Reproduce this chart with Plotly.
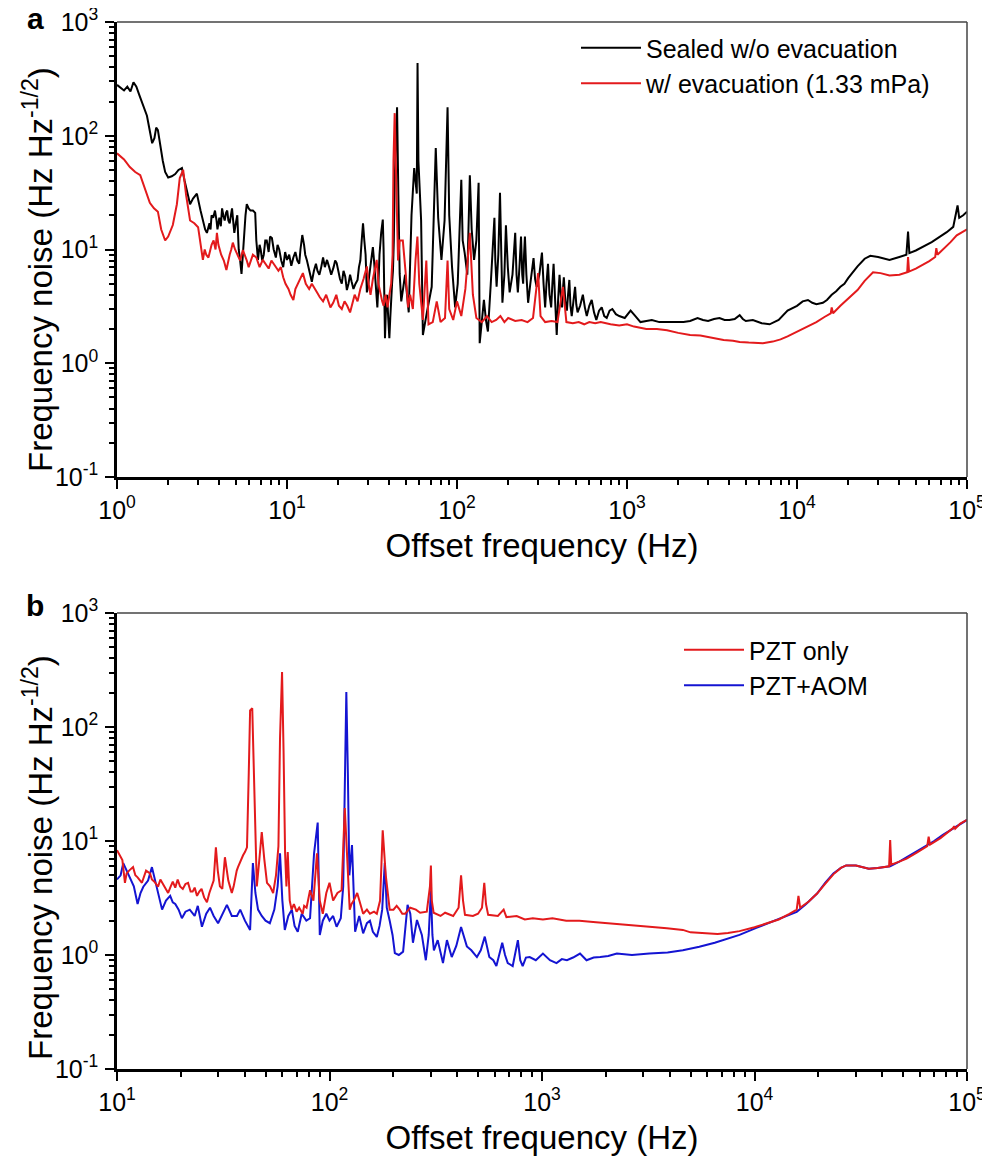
import math
import plotly.graph_objects as go

# ---------------- Panel a data ----------------
a_black_f = [1.0, 1.05, 1.1, 1.15, 1.2, 1.25, 1.3, 1.35, 1.42, 1.5, 1.56, 1.61, 1.66, 1.70, 1.74, 1.80, 1.86, 1.92,
             2.0, 2.1, 2.2, 2.3, 2.41, 2.5, 2.6, 2.69, 2.8, 2.95,
             3.1, 3.2, 3.3, 3.38, 3.45, 3.5, 3.55, 3.6, 3.68, 3.77, 3.85, 3.9, 3.95, 4.0, 4.08, 4.15, 4.22, 4.3,
             4.38, 4.45, 4.52, 4.6, 4.68, 4.75, 4.82, 4.9, 5.0, 5.1, 5.15, 5.2, 5.3, 5.4, 5.5, 5.6, 5.7, 5.8,
             5.95, 6.1, 6.3, 6.5, 6.6, 6.75, 6.9, 7.0, 7.15, 7.3, 7.45, 7.6, 7.8, 7.95, 8.15, 8.35, 8.6, 8.8,
             9.0, 9.25, 9.5, 9.75, 10, 10.3, 10.6, 10.9, 11.2, 11.5, 11.8, 12.0, 12.3, 12.6, 12.8, 13.1, 13.4,
             13.7, 14, 14.4, 14.8, 15.1, 15.5, 15.9, 16.3, 16.7, 17.2, 17.7, 18.2, 18.8, 19.2, 19.6, 20.0, 20.5,
             21.0, 21.5, 22.0, 22.5, 23.0, 23.5, 24.0, 24.6, 25.3, 26, 26.5, 27, 27.5, 28, 28.5, 29, 29.5, 30,
             30.5, 31.2, 32, 32.5, 33, 33.5, 34, 34.5, 35, 35.8, 36.6, 37, 37.2, 37.5, 37.7, 38.2, 38.8, 39.4,
             40, 40.5, 41, 41.5, 42, 42.5,
             43, 44.4, 45.2, 46, 47, 49.5, 52, 54, 56, 58, 58.6, 59.3, 61.5, 63, 66.5, 71, 75, 77.5, 81, 84.5,
             88, 90, 93.5, 97.5, 101, 106, 108, 111, 115, 119, 122, 126, 130, 134, 136, 140, 144, 148, 152, 158,
             166, 168, 171, 175, 179, 182, 185, 190, 194, 199, 204, 212, 220, 224, 228, 233, 238, 242, 245, 248,
             251, 256, 262, 270, 282, 288, 294, 305, 316, 323, 330, 336, 343, 350, 358, 364, 370, 378, 386, 393,
             401, 408, 415, 420, 425, 434, 443, 450, 458, 465, 473, 484, 495, 503, 512, 530, 550, 565, 580, 600,
             620, 640, 660, 685, 710, 735, 760, 790, 820, 860, 900, 970, 1050, 1120, 1200, 1300, 1400, 1550,
             1700, 1900, 2150, 2350, 2600, 2800, 3000, 3250, 3500, 3750, 4000, 4300, 4600, 4800,
             5000, 5500, 6200, 6900, 7800, 8800, 10000, 10800, 11600, 12300, 13000, 14200, 15000, 16000, 17000,
             18000, 19000, 20000, 21300, 22700, 25000, 27000, 30000, 35000, 40000, 44000, 45000, 45800, 50000,
             55000, 62000, 69000, 76000, 83000, 88000, 90000, 95000, 100000]
a_black_v = [280, 265, 250, 270, 245, 295, 270, 230, 190, 150, 110, 86, 95, 118, 112, 80, 60, 48,
             43, 44, 46, 50, 52, 40, 30, 25, 28, 31,
             22, 18, 15, 14, 16, 17, 15, 20, 19, 22, 18, 15, 17, 19, 16, 23, 20, 18,
             21, 22, 18, 17, 20, 23, 18, 14, 17, 20, 14, 10, 8, 6.1, 9, 14, 20, 25,
             23, 22, 22, 21, 12, 8.1, 11, 10, 8, 9, 12, 12, 9.5, 13, 12.6, 10, 8.5, 11,
             10, 8, 7, 9.5, 8.1, 9, 7.2, 8.5, 9.5, 8, 7.5, 10, 13.4, 11, 9, 8, 7,
             6, 5.2, 6.5, 7.5, 6.5, 6, 7, 8.5, 7, 8.1, 7, 6, 7, 8, 7.6, 6.5, 5.5,
             5, 6.5, 5.8, 4.4, 5, 6.0, 5.2, 4.5, 5, 5.4, 7, 8, 12, 17, 12, 9, 4.2, 4.8,
             6, 8, 10.5, 8, 6, 4, 3.1, 5, 9, 14, 18.3, 10, 5, 2.5, 1.66, 3, 4, 2.5,
             1.66, 2.5, 4, 5, 6.5, 12,
             40, 178, 30, 6.1, 3.5, 6, 2.8, 20, 52, 31, 436, 60, 18, 1.77, 2.8, 4.7, 78, 19, 8.1, 18,
             178, 20, 7, 3.1, 5, 41, 12, 9.3, 6, 45, 15, 8.1, 12, 38.6, 1.5, 2.5, 3.6, 2.4, 1.9, 5,
             19, 8, 4.7, 9, 31.6, 10, 3.4, 6, 16.3, 7, 4.2, 6, 14, 6, 4.2, 7, 13, 6, 5, 9,
             13, 6, 3.4, 5, 8.4, 5.5, 4.7, 6, 9.4, 5, 3.1, 5, 7.5, 4, 3.1, 5, 7.5, 3.5, 1.77, 3.5,
             6, 4, 3.1, 4.5, 5.7, 3.5, 2.9, 4, 5.4, 3.2, 2.6, 3.5, 4.7, 3.3, 2.8, 3.2, 4, 3.1, 2.6, 3.2,
             3.6, 2.8, 2.4, 2.9, 3.1, 2.6, 2.5, 2.9, 3.0, 2.7, 2.6, 2.5, 2.9, 2.6, 2.3, 2.35, 2.4, 2.3,
             2.3, 2.3, 2.3, 2.35, 2.5, 2.4, 2.35, 2.45, 2.5, 2.4, 2.4, 2.45, 2.65, 2.45,
             2.35, 2.4, 2.25, 2.2, 2.4, 2.9, 3.2, 3.5, 3.6, 3.4, 3.3, 3.4, 3.6, 4.0, 4.3,
             4.7, 5.0, 5.6, 6.3, 7.1, 8.3, 8.8, 8.6, 8.1, 8.6, 9.0, 14.4, 9.3, 9.8,
             10.5, 11.6, 12.9, 14.2, 15.8, 24.4, 19, 20, 21.5]

a_red_f = [1.0, 1.1, 1.19, 1.28, 1.37, 1.45, 1.56, 1.65, 1.74, 1.82, 1.92, 2.0, 2.13, 2.25, 2.34, 2.45, 2.55,
           2.69, 2.85, 3.0, 3.1, 3.2, 3.28, 3.35, 3.45, 3.52, 3.6, 3.7, 3.8, 3.87, 3.95, 4.1, 4.25, 4.4, 4.5,
           4.6, 4.7, 4.8, 4.95, 5.1, 5.3, 5.5, 5.65, 5.8, 5.95, 6.06, 6.3, 6.6, 6.9, 7.2, 7.5, 7.8, 8.1, 8.5,
           8.9, 9.2, 9.5, 9.8, 10.2, 10.5, 10.9, 11.2, 11.6, 12.0, 12.4, 12.9, 13.5, 14.0, 14.5, 15, 15.6,
           16.3, 17.0, 17.5, 18, 18.7, 19.5, 20.2, 21, 21.8, 22.6, 23.5, 24.2, 25, 26, 27, 28.2, 29.5, 30.2,
           31, 32, 33, 33.7, 34.5, 35.5, 36.3, 37, 38, 39, 40, 41, 41.8, 42.3, 43, 44, 45, 46, 48, 50, 51.5,
           53, 55, 57, 58.5, 60, 63, 66, 68, 72, 76, 80, 85, 88, 90, 95, 100, 106, 112, 119, 124, 130, 140,
           150, 160, 170, 180, 190, 200, 220, 240, 260, 280, 300, 310, 330, 360, 390, 420, 440, 480, 520, 560,
           600, 650, 700, 800, 900, 1000, 1100, 1300, 1500, 1720, 2000, 2350, 2700, 3200, 3700, 4200, 4600,
           5200, 6300, 7200, 8000, 8800, 10000, 11500, 13000, 14500, 15800, 16000, 16300, 18000, 20000,
           22700, 25000, 28000, 31000, 35000, 40000, 44500, 45000, 45600, 50000, 55000, 60000, 65000, 66000,
           67000, 75000, 80000, 87000, 93000, 100000]
a_red_v = [70, 62, 53, 48, 45, 35, 25.7, 23, 21.5, 15, 12, 13, 16.4, 25, 42.5, 50, 30,
           18, 17, 15.7, 11, 8.1, 10, 9, 8.5, 9.9, 11, 12, 10, 14, 11, 9, 8, 6.6, 8,
           9, 10, 11.5, 10, 9, 8, 9.9, 9, 8, 7, 7.6, 9, 8.5, 7, 8.1, 7.5, 6.8, 8, 7.2,
           6.5, 7, 5.7, 5, 4.5, 4, 3.6, 4.5, 5, 5.5, 6.2, 5, 4.5, 5, 4.5, 4.2, 3.8,
           3.5, 4, 3.5, 3.1, 3.4, 4, 3.2, 3.0, 3.5, 3.2, 2.8, 3.3, 4, 3.5, 4.5, 5.5, 7.1, 5,
           4, 5.5, 7, 8.1, 5, 4, 3.5, 3.2, 4, 3.1, 4, 5, 9, 60, 158, 40, 8, 12, 12, 6, 3.1,
           4, 3, 8, 13, 5, 2.4, 8, 2.2, 2.3, 3.5, 2.3, 2.5, 8, 3, 2.4, 3.5, 2.6, 4.5, 14, 4, 2.5, 2.3,
           2.6, 2.3, 2.4, 2.6, 2.3, 2.5, 2.35, 2.4, 2.3, 2.5, 6.2, 2.6, 2.3, 2.35, 2.3, 4.7, 2.3, 2.25, 2.3, 2.2,
           2.3, 2.25, 2.3, 2.2, 2.15, 2.2, 2.1, 2.0, 2.0, 1.95, 1.85, 1.77, 1.75, 1.66, 1.6, 1.58, 1.54,
           1.52, 1.50, 1.55, 1.62, 1.72, 1.9, 2.1, 2.3, 2.55, 2.75, 3.1, 2.75, 3.2, 3.7,
           4.4, 5.3, 6.3, 6.2, 5.9, 6.0, 6.3, 8.6, 6.4, 6.8, 7.3, 7.9, 8.6, 10.3,
           9, 10.5, 11.6, 13.3, 14.2, 15]

# ---------------- Panel b data ----------------
b_red_f = [10, 10.3, 10.6, 10.9, 11.1, 11.4, 11.9, 12.2, 12.5, 13.1, 13.4, 13.7, 14.3, 14.6, 15, 15.6, 16.0,
           16.5, 17.0, 17.4, 17.9, 18.3, 18.8, 19.3, 19.8, 20.4, 21.0, 21.6, 22.2, 22.7, 23.2, 23.8, 24.4, 25,
           25.7, 26.5, 27.2, 27.8, 28.5, 29.2, 29.8, 30.5, 31.3, 32.2, 32.8, 33.4, 34.0, 34.7, 35.4, 36, 36.6,
           37.1, 37.8, 38.5, 39.2, 40, 40.9,
           41.7, 42.3, 43.3, 44.2, 45.5, 46.8, 48, 49.3, 50.8, 52.5, 54.3, 56, 57.5, 58.5, 59.8, 60.8, 61.8,
           62.7, 63.6, 65, 66.3, 68, 70, 72, 74.8, 76, 78, 81, 84, 87.3, 90, 93, 96.6, 100, 104, 109, 114, 118,
           121, 124.5, 127, 130, 135, 140, 144, 150, 155, 162, 167, 173, 178, 184, 192, 200, 207, 214, 220, 227,
           240, 255, 267, 287, 297,
           300, 303, 309, 333, 350, 362, 382, 405, 416, 425, 434, 473, 500, 522, 535, 545, 558, 620, 660, 680,
           760, 830, 905, 1010, 1120, 1300, 1500, 1740, 2010, 2500, 3100, 3870, 4600, 5000, 5500, 6700, 7500,
           8500, 10000, 11500, 13000, 14600, 15800, 16100, 16400, 18000, 19700, 21500, 23500, 25500, 27000,
           30000, 34500, 38000, 43000, 43500, 44000, 48000, 52000, 58000, 65000, 66000, 67000, 75000, 80000,
           86000, 87000, 88000, 93000, 100000]
b_red_v = [8.3, 7.5, 6.8, 4.3, 5.2, 5.5, 5.9, 5.0, 4.8, 4.3, 4.9, 5.5, 5.2, 4.6, 4.4, 3.97, 4.6,
           4.2, 3.8, 3.5, 4.0, 4.4, 3.9, 4.6, 4.0, 3.8, 4.2, 4.3, 3.6, 3.6, 3.9, 3.3, 3.6, 3.8,
           3.2, 2.9, 3.5, 4, 4.5, 8.8, 5.5, 4, 3.8, 7.2, 5.5, 4.5, 4.0, 3.5, 4.0, 4.8, 5.5,
           5.9, 6.5, 7, 7.5, 8, 8.8,
           40, 140, 146, 30, 4, 7, 12, 7, 4.3, 4, 3.5, 5, 9, 80, 304, 60, 7.8,
           4, 8, 3, 2.5, 2.8, 2.4, 2.6, 2.3, 2.7, 2.6, 3.7, 3, 7.8, 3, 2.3, 3.5, 4.3, 3, 3.5, 3.7, 19.5,
           8, 2.5, 2.8, 3, 3.5, 2.7, 2.3, 2.5, 2.3, 2.4, 2.3, 3, 12.4, 5, 2.5, 2.5, 2.7, 2.5, 2.3, 2.3,
           2.6, 2.5, 2.35, 2.4, 4,
           6.1, 3, 2.35, 2.2, 2.35, 2.3, 2.2, 2.6, 5, 3, 2.25, 2.2, 2.3, 2.6, 4.3, 2.8, 2.25, 2.2, 2.5, 2.15,
           2.2, 2.05, 2.1, 2.05, 2.1, 2.0, 2.0, 1.95, 1.9, 1.85, 1.78, 1.72, 1.66, 1.58, 1.56, 1.53, 1.56,
           1.62, 1.75, 1.9, 2.05, 2.3, 2.5, 3.3, 2.6, 2.95, 3.46, 4.2, 5.1, 5.8, 6.1,
           6.1, 5.7, 5.8, 6.0, 10.2, 6.2, 6.6, 7.0, 7.9, 9.0, 10.9, 9.3, 10.6, 11.6,
           13.0, 13.5, 12.8, 14.2, 15.3]

b_blue_f = [10, 10.4, 10.7, 11.1, 11.5, 12, 12.5, 12.9, 13.3, 14, 14.6, 15.3, 15.8, 16.3, 17, 17.8, 18.3,
            18.8, 19.5, 20.2, 21, 22, 23.2, 24, 25.1, 26.3, 27.4, 28.5, 29.9, 31.4, 32.9, 34.7, 36.7, 38, 40,
            42.3, 43.6, 44.8, 46.1,
            48, 50, 52.4, 55, 57, 58.5, 60, 61.6, 64, 66.5, 68.5, 70.9, 74, 77.8, 81, 84.6, 88, 90, 93, 96.6,
            100, 104, 108, 113, 116, 118, 120, 122, 124, 127.6, 132, 138, 144, 150, 155, 160, 167, 172, 177,
            182, 186, 192, 198, 203, 212, 222, 228, 233, 240, 247, 258, 265, 272, 284, 293, 300, 305, 310, 323,
            342, 357, 376, 395, 416, 425, 443, 465, 494, 515, 538, 565, 590, 610, 630, 650, 670, 690, 728, 770,
            790, 811, 840, 875, 935, 1010, 1090, 1170, 1240, 1310, 1400, 1510, 1620, 1750, 1880, 2050, 2250,
            2650, 3200, 3900, 4600, 5500, 6500, 7500, 8500, 10200, 12800, 15800, 17500, 19700, 21500, 23500,
            25500, 27000, 30000, 34500, 38000, 43500, 48000, 52000, 58000, 65000, 70000, 77000, 88000, 100000]
b_blue_v = [4.6, 5, 6.4, 5.5, 4.6, 4, 2.8, 3.5, 3.97, 4.5, 5.9, 4, 3.2, 2.5, 3, 3.3, 2.9,
            2.8, 2.5, 2.1, 2.4, 2.5, 2.2, 2.7, 1.77, 2.3, 2.6, 2.2, 1.9, 2.3, 2.75, 2.2, 2.2, 2.5, 2.0,
            1.66, 6.4, 3.5, 2.5,
            2.2, 2.0, 1.9, 2.5, 4, 7.8, 3, 1.66, 2.2, 2.5, 1.8, 1.6, 2.3, 2.0, 2.1, 7.8, 14.5, 1.5, 2.0, 2.3,
            2.0, 2.2, 1.77, 2.1, 4, 50, 203, 40, 5, 9.2, 1.6, 2.2, 1.55, 1.9, 2.0, 1.6, 1.44, 1.8, 2.5,
            6.4, 2.6, 2.0, 1.5, 1.04, 1.0, 1.07, 1.8, 2.75, 2.3, 1.28, 2.03, 1.7, 1.5, 0.9, 1.5, 3.7, 1.5, 1.1, 1.35,
            0.85, 1.35, 0.96, 1.2, 1.76, 1.56, 1.19, 1.1, 0.96, 1.1, 1.45, 0.96, 0.9, 0.8, 1.0, 1.28, 1.0, 0.85, 0.8, 1.35,
            0.9, 0.8, 0.95, 0.96, 0.9, 1.03, 0.9, 0.85, 0.92, 0.9, 0.95, 1.03, 0.9, 0.95, 0.96, 0.98, 1.03,
            1.0, 1.03, 1.05, 1.1, 1.18, 1.28, 1.4, 1.5, 1.73, 2.03, 2.39, 2.8, 3.46, 4.3, 5.2,
            5.8, 6.1, 6.1, 5.7, 5.8, 6.0, 6.6, 7.2, 8.1, 9.2, 10, 11.3, 13.3, 15.3]

decade_vals = [1, 10, 100, 1000, 10000, 100000]
decade_text = ["10<sup>0</sup>", "10<sup>1</sup>", "10<sup>2</sup>", "10<sup>3</sup>", "10<sup>4</sup>", "10<sup>5</sup>"]
y_vals = [0.1, 1, 10, 100, 1000]
y_text = ["10<sup>-1</sup>", "10<sup>0</sup>", "10<sup>1</sup>", "10<sup>2</sup>", "10<sup>3</sup>"]
x_title = "Offset frequency (Hz)"
y_title = "Frequency noise (Hz Hz<sup>-1/2</sup>)"

RED = "#e31a1c"
BLUE = "#1414d2"
FONT = "Liberation Sans, Arial, sans-serif"

# The page body has an 8 px margin; pixel positions below are measured in the window.
W, H, OFF = 990, 1156, 8


def px_x(p):
    return (p - OFF) / W


def px_y(p):
    return 1 - (p - OFF) / H


fig = go.Figure()
fig.add_trace(go.Scatter(x=a_black_f, y=a_black_v, mode="lines", name="Sealed w/o evacuation",
                         line=dict(color="black", width=2), xaxis="x", yaxis="y", legend="legend"))
fig.add_trace(go.Scatter(x=a_red_f, y=a_red_v, mode="lines", name="w/ evacuation (1.33 mPa)",
                         line=dict(color=RED, width=2), xaxis="x", yaxis="y", legend="legend"))
fig.add_trace(go.Scatter(x=b_blue_f, y=b_blue_v, mode="lines", name="PZT+AOM",
                         line=dict(color=BLUE, width=2), xaxis="x2", yaxis="y2", legend="legend2",
                         legendrank=2))
fig.add_trace(go.Scatter(x=b_red_f, y=b_red_v, mode="lines", name="PZT only",
                         line=dict(color=RED, width=2), xaxis="x2", yaxis="y2", legend="legend2",
                         legendrank=1))


def minor_vals(lo, hi):
    out = []
    d = lo
    while d < hi * 0.999:
        for k in range(2, 10):
            out.append(k * d)
        d *= 10
    return out


def xaxis_cfg(lo, hi, anchor):
    tv = [v for v in decade_vals if lo <= v <= hi]
    tt = [decade_text[decade_vals.index(v)] for v in tv]
    return dict(type="log", range=[math.log10(lo), math.log10(hi)], domain=[px_x(117), px_x(967)],
                anchor=anchor, automargin=False, tickmode="array", tickvals=tv, ticktext=tt,
                ticks="outside", ticklen=9, tickwidth=2, tickcolor="black", ticklabeloverflow="allow",
                minor=dict(tickmode="array", tickvals=minor_vals(lo, hi), ticks="outside", ticklen=5,
                           tickwidth=1.5, tickcolor="black", showgrid=False),
                showline=True, linecolor="black", linewidth=2.5, mirror=False,
                showgrid=False, zeroline=False,
                tickfont=dict(family=FONT, size=25, color="black"),
                title=dict(text=x_title, font=dict(family=FONT, size=33, color="black"),
                           standoff=12))


def yaxis_cfg(domain, anchor):
    return dict(type="log", range=[-1, 3], domain=domain, anchor=anchor, automargin=False,
                tickmode="array", tickvals=y_vals, ticktext=y_text,
                ticks="outside", ticklen=9, tickwidth=2, tickcolor="black", ticklabelstandoff=2,
                ticklabeloverflow="allow",
                minor=dict(tickmode="array", tickvals=minor_vals(0.1, 1000), ticks="outside", ticklen=5,
                           tickwidth=1.5, tickcolor="black", showgrid=False),
                showline=True, linecolor="black", linewidth=2.5, mirror=False,
                showgrid=False, zeroline=False,
                tickfont=dict(family=FONT, size=25, color="black"))


top_dom = [px_y(477), px_y(22)]
bot_dom = [px_y(1069), px_y(613)]

fig.update_layout(
    width=W, height=H, margin=dict(l=0, r=0, t=0, b=0, autoexpand=False),
    paper_bgcolor="white", plot_bgcolor="white",
    font=dict(family=FONT, color="black"),
    xaxis=xaxis_cfg(1, 100000, "y"),
    yaxis=yaxis_cfg(top_dom, "x"),
    xaxis2=xaxis_cfg(10, 100000, "y2"),
    yaxis2=yaxis_cfg(bot_dom, "x2"),
    legend=dict(x=px_x(576), y=px_y(25), xanchor="left", yanchor="top",
                bgcolor="rgba(0,0,0,0)", font=dict(family=FONT, size=25, color="black"),
                itemwidth=60, tracegroupgap=0),
    legend2=dict(x=px_x(679), y=px_y(627), xanchor="left", yanchor="top",
                 bgcolor="rgba(0,0,0,0)", font=dict(family=FONT, size=25, color="black"),
                 itemwidth=60, tracegroupgap=0),
    annotations=[
        dict(text="<b>a</b>", x=px_x(35), y=px_y(19), xref="paper", yref="paper",
             xanchor="center", yanchor="middle",
             showarrow=False, font=dict(family=FONT, size=30, color="black")),
        dict(text="<b>b</b>", x=px_x(35), y=px_y(605), xref="paper", yref="paper",
             xanchor="center", yanchor="middle",
             showarrow=False, font=dict(family=FONT, size=30, color="black")),
        dict(text=y_title, textangle=-90, x=px_x(38), y=px_y(270), xref="paper", yref="paper",
             xanchor="center", yanchor="middle", showarrow=False,
             font=dict(family=FONT, size=33, color="black")),
        dict(text=y_title, textangle=-90, x=px_x(38), y=px_y(858), xref="paper", yref="paper",
             xanchor="center", yanchor="middle", showarrow=False,
             font=dict(family=FONT, size=33, color="black")),
    ],
    shapes=[
        dict(type="line", xref="x domain", yref="y domain", x0=0, x1=1, y0=1, y1=1,
             line=dict(color="#444", width=1.5)),
        dict(type="line", xref="x domain", yref="y domain", x0=1, x1=1, y0=0, y1=1,
             line=dict(color="#444", width=1.5)),
        dict(type="line", xref="x2 domain", yref="y2 domain", x0=0, x1=1, y0=1, y1=1,
             line=dict(color="#444", width=1.5)),
        dict(type="line", xref="x2 domain", yref="y2 domain", x0=1, x1=1, y0=0, y1=1,
             line=dict(color="#444", width=1.5)),
    ],
)

fig.write_html("out.html")
